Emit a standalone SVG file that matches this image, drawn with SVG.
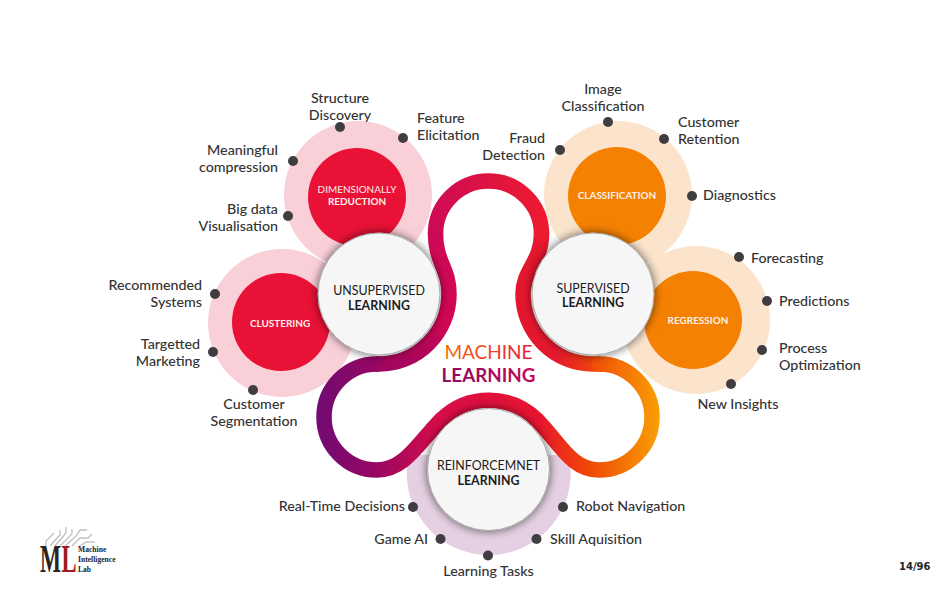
<svg xmlns="http://www.w3.org/2000/svg" width="937" height="610" viewBox="0 0 937 610">
<style>
text{font-family:Lato,"Open Sans","Liberation Sans",sans-serif;fill:#333}
.l{font-size:14.25px;font-weight:500}
.m{text-anchor:middle}
.e{text-anchor:end}
.d{fill:#3f3d40}
.pr{fill:#f9cfd8}.po{fill:#fce4cc}
.cr{fill:#e91136}.co{fill:#f58102}
.ct{font-size:9.95px;fill:#fdf0e8;text-anchor:middle}
.hub{fill:#f6f6f6;stroke:#a8a8a8;stroke-width:1;filter:url(#sh)}
.ht{font-size:12.4px;fill:#1c1c1c;text-anchor:middle}
.b{font-weight:700}
.rib{fill:none;stroke-width:15.5;stroke-linecap:round}
.ck{fill:none;stroke:#c2c2c2;stroke-width:1.4}
.ll{font-family:"Liberation Serif",serif;font-weight:700;font-size:7.6px;fill:#222}
.bl{font-family:"Liberation Serif",serif;font-weight:700;font-size:39px}
</style>
<defs>
<filter id="sh" x="-30%" y="-30%" width="160%" height="160%"><feDropShadow dx="0" dy="0" stdDeviation="5" flood-color="#000" flood-opacity=".62"/></filter>
<clipPath id="hc"><rect x="380" y="455" width="220" height="120"/></clipPath>
<linearGradient id="ga" gradientUnits="userSpaceOnUse" x1="428" y1="0" x2="549" y2="0"><stop offset="0" stop-color="#cd0a56"/><stop offset="1" stop-color="#ee1c2e"/></linearGradient>
<linearGradient id="gb" gradientUnits="userSpaceOnUse" x1="0" y1="234" x2="0" y2="370"><stop offset="0" stop-color="#cd0a56"/><stop offset=".65" stop-color="#d20552"/><stop offset="1" stop-color="#a00660"/></linearGradient>
<linearGradient id="gc" gradientUnits="userSpaceOnUse" x1="324" y1="0" x2="441" y2="0"><stop offset="0" stop-color="#750a70"/><stop offset=".45" stop-color="#980762"/><stop offset="1" stop-color="#d80c48"/></linearGradient>
<linearGradient id="gd" gradientUnits="userSpaceOnUse" x1="441" y1="0" x2="537" y2="0"><stop offset="0" stop-color="#d80c48"/><stop offset="1" stop-color="#e8142f"/></linearGradient>
<linearGradient id="ge" gradientUnits="userSpaceOnUse" x1="537" y1="0" x2="660" y2="0"><stop offset="0" stop-color="#e8142f"/><stop offset=".42" stop-color="#f04806"/><stop offset="1" stop-color="#f9a005"/></linearGradient>
<linearGradient id="gf" gradientUnits="userSpaceOnUse" x1="522" y1="0" x2="599" y2="0"><stop offset="0" stop-color="#e4162e"/><stop offset=".45" stop-color="#e4182e"/><stop offset="1" stop-color="#f04a06"/></linearGradient>
<linearGradient id="tm" gradientUnits="userSpaceOnUse" x1="445" y1="0" x2="532" y2="0"><stop offset="0" stop-color="#f26a10"/><stop offset="1" stop-color="#ea1c3c"/></linearGradient>
<linearGradient id="tl" gradientUnits="userSpaceOnUse" x1="442" y1="0" x2="535" y2="0"><stop offset="0" stop-color="#8c0a68"/><stop offset="1" stop-color="#c40a56"/></linearGradient>
</defs>
<rect width="937" height="610" fill="#fff"/>

<g id="halos">
<circle class="pr" cx="358" cy="195" r="74"/>
<circle class="pr" cx="282" cy="323" r="74"/>
<circle class="po" cx="618" cy="195" r="74"/>
<circle class="po" cx="696" cy="320" r="74"/>
<circle fill="#e4d0e2" cx="488.700" cy="473" r="82" clip-path="url(#hc)"/>
</g>

<g id="connectors">
<path class="rib" stroke="url(#gf)" d="M599 364L593 364A70 70 0 0 1 523 294C523 270 541.500 262 541.500 234"/>
<path class="rib" stroke="url(#ga)" d="M541.500 234A53 53 0 1 0 435.500 234"/>
<path class="rib" stroke="url(#gb)" d="M435.500 234C435.500 262 449 268 449 294A70 70 0 0 1 379 364L377 364"/>
<path class="rib" stroke="url(#gc)" d="M377 364A53 53 0 1 0 377 470C405 470 419 442 441 420"/>
<path class="rib" stroke="url(#ge)" d="M537 420C559 442 571 470 599 470A53 53 0 1 0 599 364"/>
<path class="rib" stroke="url(#gd)" d="M441 420A68 68 0 0 1 537 420"/>
</g>

<g id="node-dimensionally">
<circle class="cr" cx="357" cy="197" r="49"/>
<text class="ct" x="357" y="193">DIMENSIONALLY</text>
<text class="ct b" x="357" y="204.500">REDUCTION</text>
</g>
<g id="node-clustering">
<circle class="cr" cx="281" cy="322" r="49"/>
<text class="ct b" x="280" y="326.500">CLUSTERING</text>
</g>
<g id="node-classification">
<circle class="co" cx="617" cy="196" r="49"/>
<text class="ct b" x="617" y="199">CLASSIFICATION</text>
</g>
<g id="node-regression">
<circle class="co" cx="693" cy="320" r="49"/>
<text class="ct b" x="698" y="323.500">REGRESSION</text>
</g>

<g id="node-unsupervised">
<circle class="hub" cx="379" cy="294" r="61"/>
<text class="ht" x="379" y="294.500">UNSUPERVISED</text>
<text class="ht b" x="379" y="309.500">LEARNING</text>
</g>
<g id="node-supervised">
<circle class="hub" cx="593" cy="294" r="61"/>
<text class="ht" x="593" y="292.500">SUPERVISED</text>
<text class="ht b" x="593" y="307">LEARNING</text>
</g>
<g id="node-reinforcement">
<circle class="hub" cx="488.500" cy="469.500" r="61"/>
<text class="ht" x="488.500" y="470">REINFORCEMNET</text>
<text class="ht b" x="488.500" y="484.500">LEARNING</text>
</g>

<g id="title">
<text x="488.500" y="359" font-size="19" class="m" style="fill:url(#tm)">MACHINE</text>
<text x="488.500" y="382" font-size="18.800" class="m b" style="fill:url(#tl)">LEARNING</text>
</g>

<g id="leaves-dimensionally">
<circle class="d" cx="340" cy="127" r="5"/><text class="l m" x="340" y="102.500">Structure</text><text class="l m" x="340" y="119.500">Discovery</text>
<circle class="d" cx="403" cy="138" r="5"/><text class="l" x="417" y="123">Feature</text><text class="l" x="417" y="140">Elicitation</text>
<circle class="d" cx="293" cy="161" r="5"/><text class="l e" x="278" y="155">Meaningful</text><text class="l e" x="278" y="172">compression</text>
<circle class="d" cx="288" cy="216" r="5"/><text class="l e" x="278" y="214">Big data</text><text class="l e" x="278" y="231">Visualisation</text>
</g>
<g id="leaves-clustering">
<circle class="d" cx="215" cy="294" r="5"/><text class="l e" x="202" y="290">Recommended</text><text class="l e" x="202" y="307">Systems</text>
<circle class="d" cx="213" cy="352" r="5"/><text class="l e" x="200" y="349">Targetted</text><text class="l e" x="200" y="366">Marketing</text>
<circle class="d" cx="253" cy="390" r="5"/><text class="l m" x="254" y="409">Customer</text><text class="l m" x="254" y="426">Segmentation</text>
</g>
<g id="leaves-classification">
<circle class="d" cx="560" cy="150" r="5"/><text class="l e" x="545" y="143">Fraud</text><text class="l e" x="545" y="160">Detection</text>
<circle class="d" cx="608" cy="122" r="5"/><text class="l m" x="603" y="94">Image</text><text class="l m" x="603" y="111">Classification</text>
<circle class="d" cx="664" cy="139" r="5"/><text class="l" x="678" y="127">Customer</text><text class="l" x="678" y="144">Retention</text>
<circle class="d" cx="692" cy="196" r="5"/><text class="l" x="703" y="200">Diagnostics</text>
</g>
<g id="leaves-regression">
<circle class="d" cx="739" cy="257" r="5"/><text class="l" x="751" y="263">Forecasting</text>
<circle class="d" cx="767" cy="301" r="5"/><text class="l" x="779" y="306">Predictions</text>
<circle class="d" cx="762" cy="350" r="5"/><text class="l" x="779" y="353">Process</text><text class="l" x="779" y="369.500">Optimization</text>
<circle class="d" cx="731" cy="384" r="5"/><text class="l m" x="738" y="409">New Insights</text>
</g>
<g id="leaves-reinforcement">
<circle class="d" cx="413" cy="507" r="5"/><text class="l e" x="405" y="511">Real-Time Decisions</text>
<circle class="d" cx="440.500" cy="539" r="5"/><text class="l e" x="428" y="544">Game AI</text>
<circle class="d" cx="488" cy="555.500" r="5"/><text class="l m" x="488.500" y="575.500">Learning Tasks</text>
<circle class="d" cx="536.500" cy="539" r="5"/><text class="l" x="550" y="544">Skill Aquisition</text>
<circle class="d" cx="563" cy="507" r="5"/><text class="l" x="576" y="511">Robot Navigation</text>
</g>

<g id="logo">
<path class="ck" d="M46 546L46 541L54 533M50 546L60 535L60 530M55 546L66 533L66 527M60 546L72 534L72 529M65 546L76 536L80 530L87 530M72 546L80 538L88 538L92 534M80 546L86 542L95 542"/>
<text class="bl" transform="translate(40 572) scale(.57 1)" style="fill:#2a2420">M</text>
<text class="bl" transform="translate(61.500 572) scale(.58 1)" style="fill:#9c1c20">L</text>
<text class="ll" x="78" y="552">Machine</text>
<text class="ll" x="78" y="562">Intelligence</text>
<text class="ll" x="78" y="572">Lab</text>
</g>
<text id="page" x="899" y="570" font-size="10" font-weight="700" style="font-family:'DejaVu Sans',sans-serif;fill:#222">14/96</text>
</svg>
